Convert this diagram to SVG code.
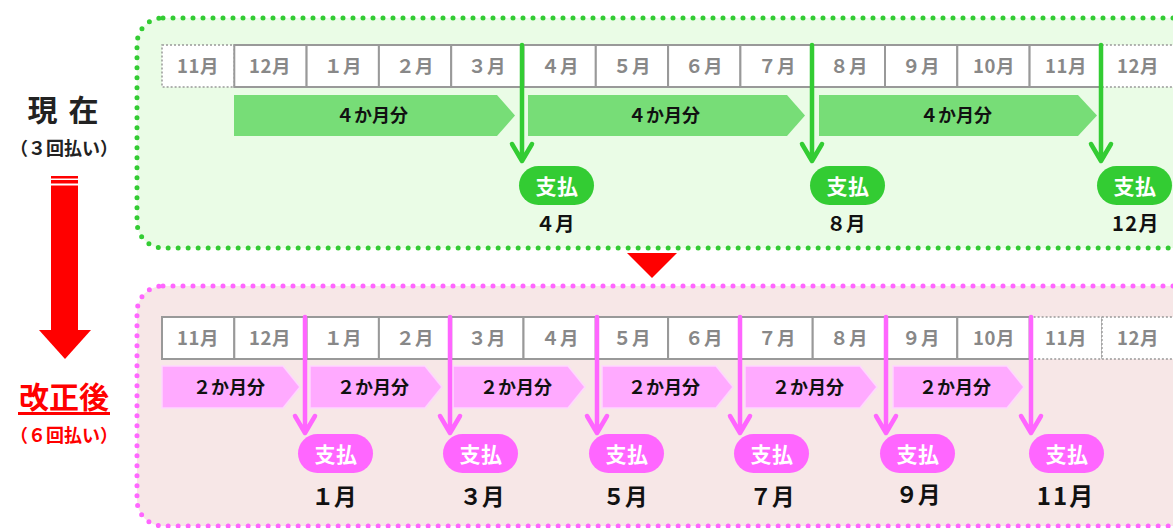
<svg xmlns="http://www.w3.org/2000/svg" width="1173" height="528" viewBox="0 0 1173 528">
<style>
  text { font-family: "Noto Sans CJK JP", "Noto Sans", sans-serif; font-weight: bold; }
  .cell { fill: #ffffff; stroke: #999999; stroke-width: 2; }
  .cellDot { fill: #ffffff; stroke: #999999; stroke-width: 1.5; stroke-dasharray: 2 2; }
  .mon { fill: #888888; font-size: 18.5px; text-anchor: middle; letter-spacing: 0.5px; }
  .gchev { fill: #77dd77; }
  .pchev { fill: #ffaaff; stroke: #ffd6ff; stroke-width: 1.5; }
  .chevT { fill: #111111; font-size: 18px; text-anchor: middle; }
  .gpill { fill: #33cc33; }
  .ppill { fill: #ff66ff; }
  .pillT { fill: #ffffff; font-size: 21px; text-anchor: middle; letter-spacing: 0.5px; }
  .payT { fill: #111111; text-anchor: middle; }
  .garr { stroke: #33cc33; stroke-width: 4.5; fill: none; stroke-linecap: round; stroke-linejoin: round; }
  .parr { stroke: #ff66ff; stroke-width: 4.5; fill: none; stroke-linecap: round; stroke-linejoin: round; }
</style>

<!-- Panels -->
<g id="panel-current">
  <rect x="137" y="18" width="1100" height="230" rx="26" fill="#eafce6" stroke="#33cc33" stroke-width="5" stroke-dasharray="0 10" stroke-linecap="round"/>
</g>
<g id="panel-revised">
  <rect x="137" y="286" width="1100" height="240" rx="26" fill="#f7e7e7" stroke="#ff66ff" stroke-width="5" stroke-dasharray="0 10" stroke-linecap="round"/>
</g>

<!-- Left labels -->
<g id="label-current">
  <text x="64" y="121" font-size="30" text-anchor="middle" fill="#222222" letter-spacing="2">現 在</text>
  <text x="64" y="155" font-size="18" text-anchor="middle" fill="#222222">（３回払い）</text>
</g>
<g id="big-arrow">
  <rect x="51" y="176" width="27" height="2.5" fill="#ff0000"/>
  <rect x="51" y="180" width="27" height="3.5" fill="#ff0000"/>
  <rect x="51" y="185.5" width="27" height="145" fill="#ff0000"/>
  <polygon points="39,330 91,330 65,359" fill="#ff0000"/>
</g>
<g id="label-revised">
  <text x="64" y="408" font-size="30" text-anchor="middle" fill="#ff0000">改正後</text>
  <rect x="18" y="412" width="92" height="3" fill="#ff0000"/>
  <text x="64" y="442" font-size="18" text-anchor="middle" fill="#ff0000">（６回払い）</text>
</g>
<g id="mid-triangle">
  <polygon points="627,253 677,253 652,278" fill="#ff0000"/>
</g>

<!-- Top month row -->
<g id="months-current">
  <rect class="cellDot" x="162" y="45" width="72.3" height="42"/>
  <rect class="cellDot" x="1101.9" y="45" width="80" height="42"/>
  <rect class="cell" x="234.3" y="45" width="72.3" height="42"/>
  <rect class="cell" x="306.6" y="45" width="72.3" height="42"/>
  <rect class="cell" x="378.9" y="45" width="72.3" height="42"/>
  <rect class="cell" x="451.2" y="45" width="72.3" height="42"/>
  <rect class="cell" x="523.5" y="45" width="72.3" height="42"/>
  <rect class="cell" x="595.8" y="45" width="72.3" height="42"/>
  <rect class="cell" x="668.1" y="45" width="72.3" height="42"/>
  <rect class="cell" x="740.4" y="45" width="72.3" height="42"/>
  <rect class="cell" x="812.7" y="45" width="72.3" height="42"/>
  <rect class="cell" x="885" y="45" width="72.3" height="42"/>
  <rect class="cell" x="957.3" y="45" width="72.3" height="42"/>
  <rect class="cell" x="1029.6" y="45" width="72.3" height="42"/>
  <text class="mon" x="198" y="73">11月</text>
  <text class="mon" x="270" y="73">12月</text>
  <text class="mon" x="343" y="73">１月</text>
  <text class="mon" x="415" y="73">２月</text>
  <text class="mon" x="487" y="73">３月</text>
  <text class="mon" x="560" y="73">４月</text>
  <text class="mon" x="632" y="73">５月</text>
  <text class="mon" x="704" y="73">６月</text>
  <text class="mon" x="777" y="73">７月</text>
  <text class="mon" x="849" y="73">８月</text>
  <text class="mon" x="921" y="73">９月</text>
  <text class="mon" x="994" y="73">10月</text>
  <text class="mon" x="1066" y="73">11月</text>
  <text class="mon" x="1138" y="73">12月</text>
</g>

<!-- Bottom month row -->
<g id="months-revised">
  <rect class="cellDot" x="1029.6" y="317" width="72.3" height="42"/>
  <rect class="cellDot" x="1101.9" y="317" width="80" height="42"/>
  <rect class="cell" x="162" y="317" width="72.3" height="42"/>
  <rect class="cell" x="234.3" y="317" width="72.3" height="42"/>
  <rect class="cell" x="306.6" y="317" width="72.3" height="42"/>
  <rect class="cell" x="378.9" y="317" width="72.3" height="42"/>
  <rect class="cell" x="451.2" y="317" width="72.3" height="42"/>
  <rect class="cell" x="523.5" y="317" width="72.3" height="42"/>
  <rect class="cell" x="595.8" y="317" width="72.3" height="42"/>
  <rect class="cell" x="668.1" y="317" width="72.3" height="42"/>
  <rect class="cell" x="740.4" y="317" width="72.3" height="42"/>
  <rect class="cell" x="812.7" y="317" width="72.3" height="42"/>
  <rect class="cell" x="885" y="317" width="72.3" height="42"/>
  <rect class="cell" x="957.3" y="317" width="72.3" height="42"/>
  <text class="mon" x="198" y="345">11月</text>
  <text class="mon" x="270" y="345">12月</text>
  <text class="mon" x="343" y="345">１月</text>
  <text class="mon" x="415" y="345">２月</text>
  <text class="mon" x="487" y="345">３月</text>
  <text class="mon" x="560" y="345">４月</text>
  <text class="mon" x="632" y="345">５月</text>
  <text class="mon" x="704" y="345">６月</text>
  <text class="mon" x="777" y="345">７月</text>
  <text class="mon" x="849" y="345">８月</text>
  <text class="mon" x="921" y="345">９月</text>
  <text class="mon" x="994" y="345">10月</text>
  <text class="mon" x="1066" y="345">11月</text>
  <text class="mon" x="1138" y="345">12月</text>
</g>

<!-- Top chevrons -->
<g id="chev-current-1"><polygon class="gchev" points="234,95 497,95 515,115.5 497,136 234,136"/><text class="chevT" x="372" y="122">４か月分</text></g>
<g id="chev-current-2"><polygon class="gchev" points="528,95 787,95 805,115.5 787,136 528,136"/><text class="chevT" x="664" y="122">４か月分</text></g>
<g id="chev-current-3"><polygon class="gchev" points="819,95 1078,95 1097,115.5 1078,136 819,136"/><text class="chevT" x="956" y="122">４か月分</text></g>

<!-- Bottom chevrons -->
<g id="chev-revised-1"><polygon class="pchev" points="162,366 283,366 300,387 283,408 162,408"/><text class="chevT" x="229" y="394">２か月分</text></g>
<g id="chev-revised-2"><polygon class="pchev" points="310,366 425,366 442,387 425,408 310,408"/><text class="chevT" x="373" y="394">２か月分</text></g>
<g id="chev-revised-3"><polygon class="pchev" points="453,366 568,366 585,387 568,408 453,408"/><text class="chevT" x="516" y="394">２か月分</text></g>
<g id="chev-revised-4"><polygon class="pchev" points="602,366 716,366 733,387 716,408 602,408"/><text class="chevT" x="664" y="394">２か月分</text></g>
<g id="chev-revised-5"><polygon class="pchev" points="745,366 860,366 877,387 860,408 745,408"/><text class="chevT" x="808" y="394">２か月分</text></g>
<g id="chev-revised-6"><polygon class="pchev" points="893,366 1007,366 1024,387 1007,408 893,408"/><text class="chevT" x="955" y="394">２か月分</text></g>

<!-- Connectors -->
<g id="connectors">
  <path class="garr" d="M522,45 V161 M512,144 L522,161 L532,144"/>
  <path class="garr" d="M812,45 V161 M802,144 L812,161 L822,144"/>
  <path class="garr" d="M1101,45 V161 M1091,144 L1101,161 L1111,144"/>
  <path class="parr" d="M305,317 V433 M295,416 L305,433 L315,416"/>
  <path class="parr" d="M450,317 V433 M440,416 L450,433 L460,416"/>
  <path class="parr" d="M597,317 V433 M587,416 L597,433 L607,416"/>
  <path class="parr" d="M740,317 V433 M730,416 L740,433 L750,416"/>
  <path class="parr" d="M886,317 V433 M876,416 L886,433 L896,416"/>
  <path class="parr" d="M1031,317 V433 M1021,416 L1031,433 L1041,416"/>
</g>

<!-- Top payment pills -->
<g id="pay-current-4"><rect class="gpill" x="519" y="166" width="75" height="39" rx="19.5"/><text class="pillT" x="557" y="194">支払</text><text class="payT" x="555" y="231" font-size="19.5">４月</text></g>
<g id="pay-current-8"><rect class="gpill" x="810" y="166" width="75" height="39" rx="19.5"/><text class="pillT" x="848" y="194">支払</text><text class="payT" x="846" y="231" font-size="19.5">８月</text></g>
<g id="pay-current-12"><rect class="gpill" x="1097" y="166" width="75" height="39" rx="19.5"/><text class="pillT" x="1135" y="194">支払</text><text class="payT" x="1136" y="231" font-size="20" letter-spacing="1.5">12月</text></g>

<!-- Bottom payment pills -->
<g id="pay-revised-1"><rect class="ppill" x="298" y="434" width="75" height="39" rx="19.5"/><text class="pillT" x="336" y="462">支払</text><text class="payT" x="334" y="505" font-size="22.5">１月</text></g>
<g id="pay-revised-3"><rect class="ppill" x="443" y="434" width="75" height="39" rx="19.5"/><text class="pillT" x="481" y="462">支払</text><text class="payT" x="482" y="505" font-size="22.5">３月</text></g>
<g id="pay-revised-5"><rect class="ppill" x="589" y="434" width="75" height="39" rx="19.5"/><text class="pillT" x="627" y="462">支払</text><text class="payT" x="625" y="505" font-size="22.5">５月</text></g>
<g id="pay-revised-7"><rect class="ppill" x="734" y="434" width="75" height="39" rx="19.5"/><text class="pillT" x="772" y="462">支払</text><text class="payT" x="772" y="505" font-size="22.5">７月</text></g>
<g id="pay-revised-9"><rect class="ppill" x="880" y="434" width="75" height="39" rx="19.5"/><text class="pillT" x="918" y="462">支払</text><text class="payT" x="918" y="503" font-size="22.5">９月</text></g>
<g id="pay-revised-11"><rect class="ppill" x="1029" y="434" width="75" height="39" rx="19.5"/><text class="pillT" x="1067" y="462">支払</text><text class="payT" x="1066" y="505" font-size="24" letter-spacing="2">11月</text></g>
</svg>
